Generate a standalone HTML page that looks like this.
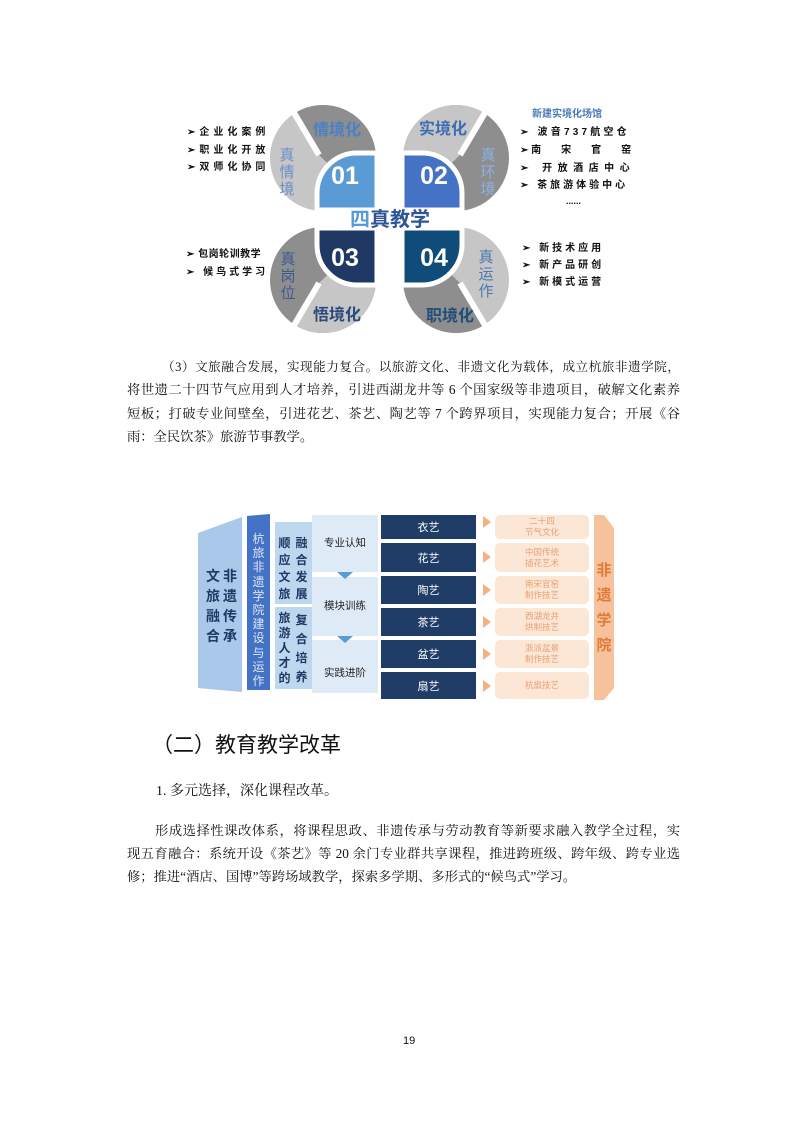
<!DOCTYPE html>
<html><head><meta charset="utf-8">
<style>
html,body{margin:0;padding:0;background:#fff;}
body{width:800px;height:1131px;position:relative;overflow:hidden;font-family:"Liberation Serif","Noto Serif CJK SC",serif;}
.a{position:absolute;white-space:nowrap;}
.ln{position:absolute;left:127px;width:553px;font-size:13.3px;line-height:20px;text-align:justify;text-align-last:justify;color:#111;white-space:nowrap;overflow:visible;}
.sans{font-family:"Liberation Sans","Noto Sans CJK SC",sans-serif;}
.nv{position:absolute;left:381px;width:95px;background:#1f3d66;color:#fff;font-size:11px;display:flex;align-items:center;justify-content:center;font-family:"Liberation Sans","Noto Sans CJK SC",sans-serif;}
.pc{position:absolute;left:495px;width:94px;background:#fce6d6;border-radius:5px;color:#e6a273;font-size:8.5px;line-height:11px;display:flex;align-items:center;justify-content:center;text-align:center;font-family:"Liberation Sans","Noto Sans CJK SC",sans-serif;}
.tri{position:absolute;left:483px;width:0;height:0;border-top:6px solid transparent;border-bottom:6px solid transparent;border-left:8px solid #f4b183;}
.vc{position:absolute;font-family:"Liberation Sans","Noto Sans CJK SC",sans-serif;font-weight:bold;text-align:center;}
</style></head><body>

<svg class="a" style="left:0;top:0" width="800" height="360" viewBox="0 0 800 360">
<defs>
<clipPath id="vp"><polygon points="0,0 -58,-55 -160,-226 60,-226 60,0"/></clipPath>
</defs>
<!-- Q1 -->
<g transform="translate(377,210)">
<circle cx="-54" cy="-52" r="53" fill="#c6c6c6"/><rect x="-54" y="-52" width="54" height="52" fill="#c6c6c6"/>
<g clip-path="url(#vp)"><circle cx="-54" cy="-52" r="53" fill="#8e8e8e"/><rect x="-54" y="-52" width="54" height="52" fill="#8e8e8e"/></g>
<line x1="-58" y1="-55" x2="-100" y2="-126" stroke="#fff" stroke-width="6"/>
<path d="M0,0 L-60,0 L-60,-17 A40,40 0 0 1 -20,-57 L0,-57 Z" fill="#5b9bd5" stroke="#fff" stroke-width="5"/>
</g>
<!-- Q2 -->
<g transform="translate(402,210) scale(-1,1)">
<circle cx="-54" cy="-52" r="53" fill="#8e8e8e"/><rect x="-54" y="-52" width="54" height="52" fill="#8e8e8e"/>
<g clip-path="url(#vp)"><circle cx="-54" cy="-52" r="53" fill="#c6c6c6"/><rect x="-54" y="-52" width="54" height="52" fill="#c6c6c6"/></g>
<line x1="-58" y1="-55" x2="-100" y2="-126" stroke="#fff" stroke-width="6"/>
<path d="M0,0 L-60,0 L-60,-17 A40,40 0 0 1 -20,-57 L0,-57 Z" fill="#4472c4" stroke="#fff" stroke-width="5"/>
</g>
<!-- Q3 -->
<g transform="translate(377,228) scale(1,-1)">
<circle cx="-54" cy="-52" r="53" fill="#8e8e8e"/><rect x="-54" y="-52" width="54" height="52" fill="#8e8e8e"/>
<g clip-path="url(#vp)"><circle cx="-54" cy="-52" r="53" fill="#c6c6c6"/><rect x="-54" y="-52" width="54" height="52" fill="#c6c6c6"/></g>
<line x1="-58" y1="-55" x2="-100" y2="-126" stroke="#fff" stroke-width="6"/>
<path d="M0,0 L-60,0 L-60,-17 A40,40 0 0 1 -20,-57 L0,-57 Z" fill="#203864" stroke="#fff" stroke-width="5"/>
</g>
<!-- Q4 -->
<g transform="translate(402,228) scale(-1,-1)">
<circle cx="-54" cy="-52" r="53" fill="#c6c6c6"/><rect x="-54" y="-52" width="54" height="52" fill="#c6c6c6"/>
<g clip-path="url(#vp)"><circle cx="-54" cy="-52" r="53" fill="#8e8e8e"/><rect x="-54" y="-52" width="54" height="52" fill="#8e8e8e"/></g>
<line x1="-58" y1="-55" x2="-100" y2="-126" stroke="#fff" stroke-width="6"/>
<path d="M0,0 L-60,0 L-60,-17 A40,40 0 0 1 -20,-57 L0,-57 Z" fill="#0f4c7a" stroke="#fff" stroke-width="5"/>
</g>
<g font-family="Liberation Sans, Noto Sans CJK SC, sans-serif" font-weight="bold" text-anchor="middle">
<text x="345" y="184" font-size="25" fill="#fff">01</text>
<text x="434" y="184" font-size="25" fill="#fff">02</text>
<text x="345" y="266" font-size="25" fill="#fff">03</text>
<text x="434" y="266" font-size="25" fill="#fff">04</text>
<text x="337" y="135" font-size="16" fill="#4a80c4">情境化</text>
<text x="443" y="134" font-size="16" fill="#3d6db4">实境化</text>
<text x="337" y="320" font-size="16" fill="#2c4a7c">悟境化</text>
<text x="450" y="321" font-size="16" fill="#1f4e79">职境化</text>
<text x="390" y="226" font-size="20" fill="#2e5597"><tspan fill="#5b9bd5">四</tspan>真教学</text>
</g>
<g font-family="Liberation Sans, Noto Sans CJK SC, sans-serif" font-size="15" text-anchor="middle">
<text x="287" y="160" fill="#6a8fc8">真</text><text x="287" y="177" fill="#6a8fc8">情</text><text x="287" y="194" fill="#6a8fc8">境</text>
<text x="488" y="160" fill="#8cb0e4">真</text><text x="488" y="177" fill="#8cb0e4">环</text><text x="488" y="194" fill="#8cb0e4">境</text>
<text x="288" y="264" fill="#3d5a92">真</text><text x="288" y="281" fill="#3d5a92">岗</text><text x="288" y="298" fill="#3d5a92">位</text>
<text x="486" y="262" fill="#4a7ab0">真</text><text x="486" y="279" fill="#4a7ab0">运</text><text x="486" y="296" fill="#4a7ab0">作</text>
</g>
<g font-family="Liberation Sans, Noto Sans CJK SC, sans-serif" font-size="10" font-weight="bold" fill="#111">
<text x="187" y="135" letter-spacing="4">➢企业化案例</text>
<text x="187" y="153" letter-spacing="4">➢职业化开放</text>
<text x="187" y="170" letter-spacing="4">➢双师化协同</text>
<text x="532" y="117" fill="#4a7ab8" font-size="10">新建实境化场馆</text>
<text x="520" y="135" letter-spacing="3.2">➢ 波音737航空仓</text>
<text x="520" y="153">➢ 南<tspan dx="20">宋</tspan><tspan dx="20">官</tspan><tspan dx="20">窑</tspan></text>
<text x="520" y="171" letter-spacing="5.5">➢ 开放酒店中心</text>
<text x="520" y="188" letter-spacing="3">➢ 茶旅游体验中心</text>
<text x="566" y="204" font-size="9">......</text>
<text x="186" y="257" letter-spacing="0.5">➢ 包岗轮训教学</text>
<text x="186" y="275" letter-spacing="3">➢ 候鸟式学习</text>
<text x="522" y="251" letter-spacing="3">➢ 新技术应用</text>
<text x="522" y="268" letter-spacing="3">➢ 新产品研创</text>
<text x="522" y="285" letter-spacing="3">➢ 新模式运营</text>
</g>
</svg>

<div class="ln" style="top:357px;left:162px;width:518px;font-size:12.6px;">（3）文旅融合发展，实现能力复合。以旅游文化、非遗文化为载体，成立杭旅非遗学院，</div>
<div class="ln" style="top:380px;">将世遗二十四节气应用到人才培养，引进西湖龙井等 6 个国家级等非遗项目，破解文化素养</div>
<div class="ln" style="top:404px;">短板；打破专业间壁垒，引进花艺、茶艺、陶艺等 7 个跨界项目，实现能力复合；开展《谷</div>
<div class="ln" style="top:427px;text-align-last:left;">雨：全民饮茶》旅游节事教学。</div>

<!-- diagram 2 -->
<svg class="a" style="left:0;top:0" width="800" height="720">
<polygon points="198,533 242,517 242,692 198,688" fill="#a9c8ea"/>
<polygon points="247,516 270,514 270,690 247,690" fill="#4472c4"/>
<rect x="275" y="522" width="37" height="82" fill="#bdd7ee"/>
<rect x="275" y="607" width="37" height="82" fill="#bdd7ee"/>
<rect x="312" y="515" width="66" height="57" fill="#dfeaf7"/>
<rect x="312" y="577" width="66" height="59" fill="#dfeaf7"/>
<rect x="312" y="640" width="66" height="53" fill="#dfeaf7"/>
<polygon points="337,572 353,572 345,579" fill="#5b9bd5"/>
<polygon points="337,636 353,636 345,643" fill="#5b9bd5"/>
<polygon points="594,515 604,515 614,528 614,688 604,700 594,700" fill="#f7c29b"/>
</svg>
<div class="vc" style="left:204px;top:566px;width:18px;font-size:14px;line-height:20px;color:#1f3864;">文<br>旅<br>融<br>合</div>
<div class="vc" style="left:221px;top:566px;width:18px;font-size:14px;line-height:20px;color:#1f3864;">非<br>遗<br>传<br>承</div>
<div class="vc" style="left:250px;top:532px;width:17px;font-size:12px;line-height:14.2px;color:#dce6f5;font-weight:normal;">杭<br>旅<br>非<br>遗<br>学<br>院<br>建<br>设<br>与<br>运<br>作</div>
<div class="vc" style="left:276px;top:535px;width:17px;font-size:12px;line-height:17px;color:#1f3864;">顺<br>应<br>文<br>旅</div>
<div class="vc" style="left:293px;top:535px;width:17px;font-size:12px;line-height:17px;color:#1f3864;">融<br>合<br>发<br>展</div>
<div class="vc" style="left:276px;top:611px;width:17px;font-size:12px;line-height:15px;color:#1f3864;">旅<br>游<br>人<br>才<br>的</div>
<div class="vc" style="left:293px;top:611px;width:17px;font-size:12px;line-height:19px;color:#1f3864;">复<br>合<br>培<br>养</div>
<div class="a sans" style="left:312px;width:66px;text-align:center;top:535px;font-size:10.5px;color:#222;">专业认知</div>
<div class="a sans" style="left:312px;width:66px;text-align:center;top:598px;font-size:10.5px;color:#222;">模块训练</div>
<div class="a sans" style="left:312px;width:66px;text-align:center;top:665px;font-size:10.5px;color:#222;">实践进阶</div>

<div class="nv" style="top:515px;height:24px;">衣艺</div>
<div class="nv" style="top:543px;height:29px;">花艺</div>
<div class="nv" style="top:576px;height:28px;">陶艺</div>
<div class="nv" style="top:608px;height:28px;">茶艺</div>
<div class="nv" style="top:640px;height:28px;">盆艺</div>
<div class="nv" style="top:672px;height:27px;">扇艺</div>
<div class="tri" style="top:516px;"></div>
<div class="tri" style="top:551px;"></div>
<div class="tri" style="top:584px;"></div>
<div class="tri" style="top:616px;"></div>
<div class="tri" style="top:648px;"></div>
<div class="tri" style="top:680px;"></div>
<div class="pc" style="top:515px;height:24px;">二十四<br>节气文化</div>
<div class="pc" style="top:543px;height:29px;">中国传统<br>插花艺术</div>
<div class="pc" style="top:576px;height:28px;">南宋官窑<br>制作技艺</div>
<div class="pc" style="top:608px;height:28px;">西湖龙井<br>烘制技艺</div>
<div class="pc" style="top:640px;height:28px;">浙派盆景<br>制作技艺</div>
<div class="pc" style="top:672px;height:27px;">杭扇技艺</div>
<div class="vc" style="left:594px;top:558px;width:20px;font-size:15px;line-height:25px;color:#e07b39;">非<br>遗<br>学<br>院</div>

<div class="a sans" style="left:152px;top:733px;font-size:21px;line-height:26px;color:#111;">（二）教育教学改革</div>
<div class="a" style="left:156px;top:782px;font-size:14px;line-height:20px;color:#111;">1. 多元选择，深化课程改革。</div>
<div class="ln" style="top:821px;left:155px;width:525px;">形成选择性课改体系，将课程思政、非遗传承与劳动教育等新要求融入教学全过程，实</div>
<div class="ln" style="top:844px;">现五育融合：系统开设《茶艺》等 20 余门专业群共享课程，推进跨班级、跨年级、跨专业选</div>
<div class="ln" style="top:867px;text-align-last:left;">修；推进“酒店、国博”等跨场域教学，探索多学期、多形式的“候鸟式”学习。</div>

<div class="a sans" style="left:403px;top:1035px;font-size:11px;color:#111;">19</div>
</body></html>
